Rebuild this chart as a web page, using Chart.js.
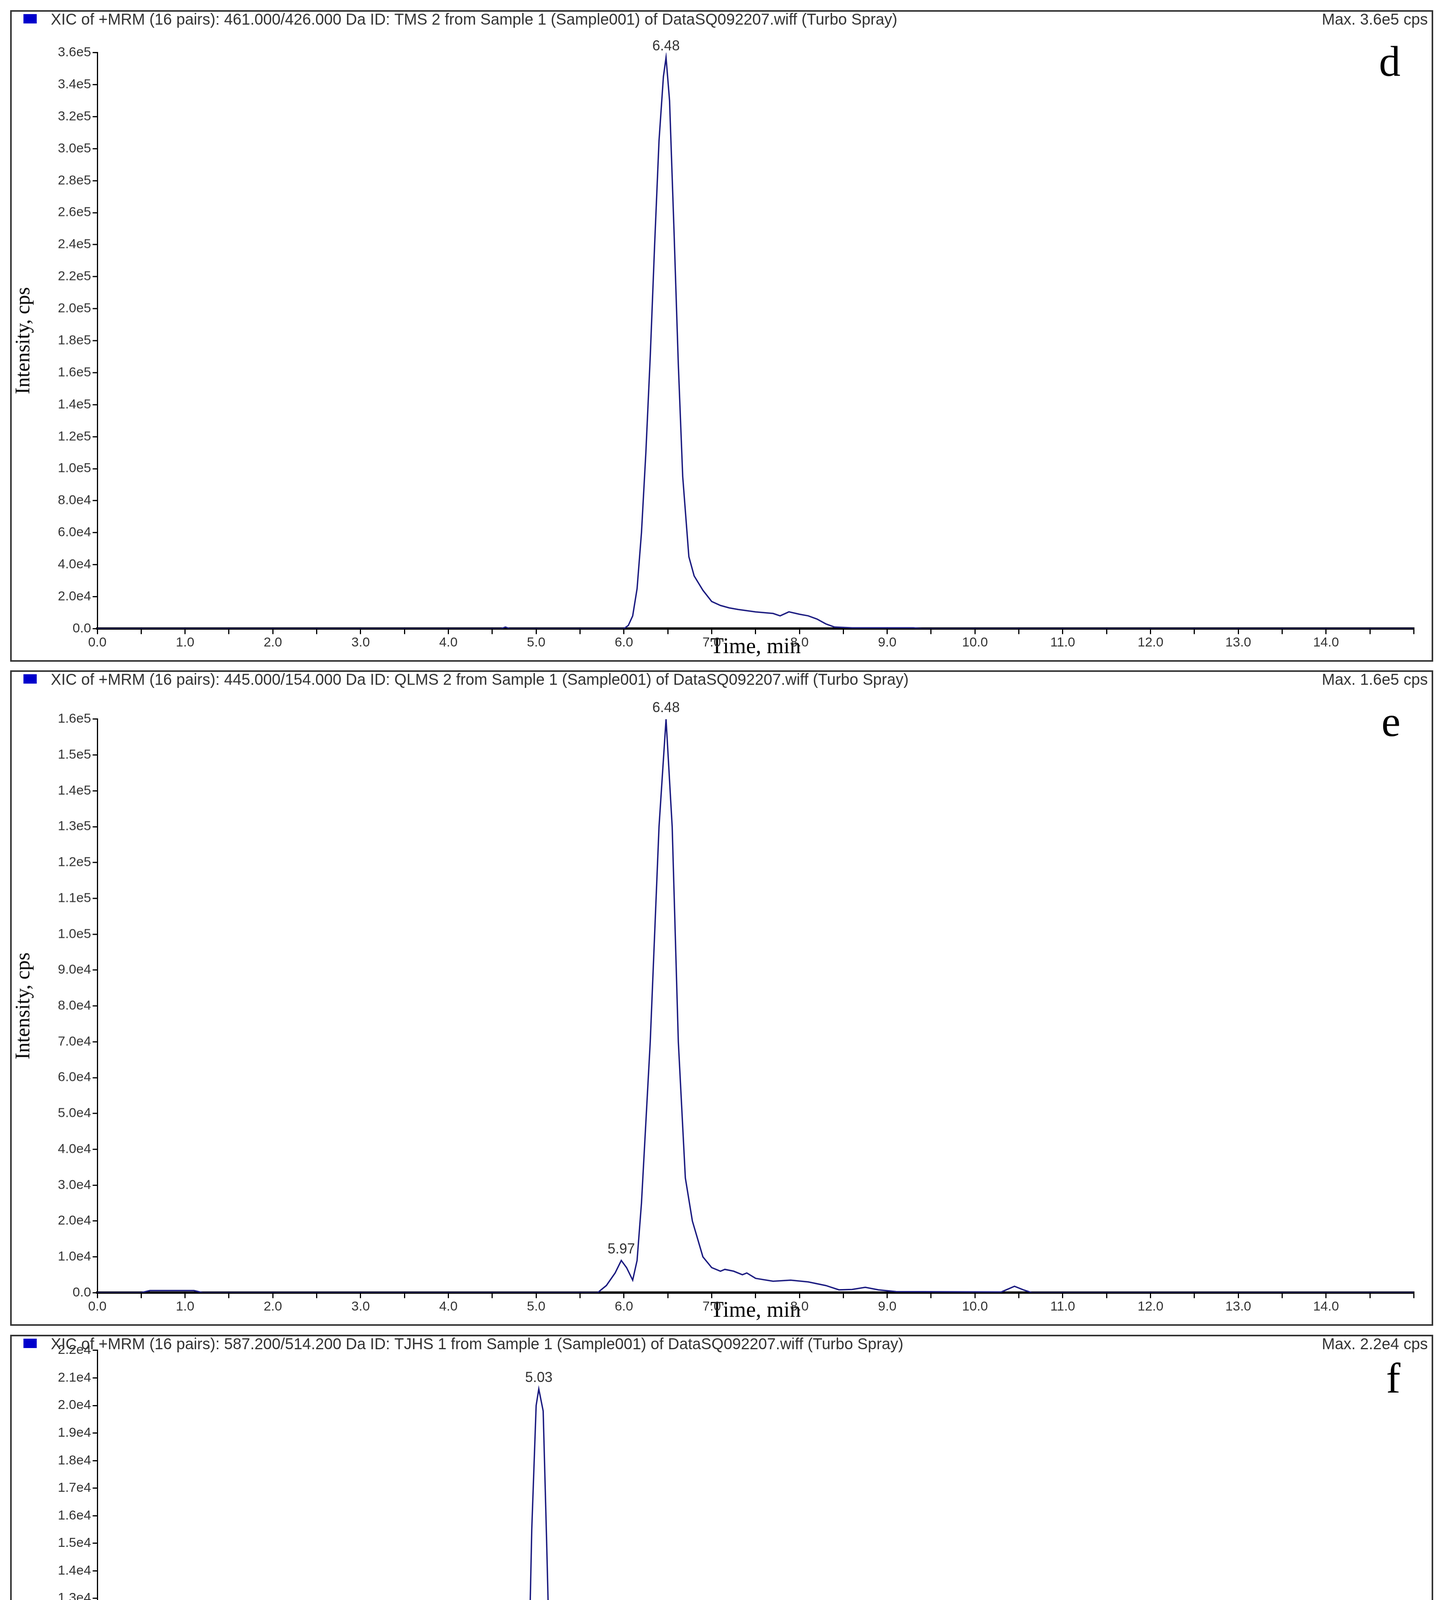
<!DOCTYPE html>
<html>
<head>
<meta charset="utf-8">
<script src="https://cdn.jsdelivr.net/npm/chart.js@4.4.1/dist/chart.umd.min.js"></script>
<style>
  body { margin: 0; background: #fff; width: 3688px; height: 5122px; position: relative; }
  .box { position: absolute; border: 4px solid #333; box-sizing: border-box; background: #fff; }
</style>
</head>
<body>
<div class="box" id="bd"><canvas id="cd"></canvas></div>
<div class="box" id="be"><canvas id="ce"></canvas></div>
<div class="box" id="bf"><canvas id="cf"></canvas></div>
<script>
// panel d: TMS 2
const timeD = [0, 4.6, 4.65, 4.7, 5.8, 6.0, 6.05, 6.1, 6.15, 6.2, 6.25, 6.3, 6.35, 6.4, 6.45, 6.48, 6.52, 6.57, 6.62, 6.67, 6.74, 6.8, 6.9, 7.0, 7.1, 7.2, 7.3, 7.5, 7.7, 7.78, 7.88, 8.0, 8.1, 8.2, 8.3, 8.4, 8.6, 9.3, 9.4, 15];
const intD = [0, 0, 1000, 0, 0, 0, 2000, 8000, 25000, 60000, 110000, 170000, 240000, 305000, 345000, 357000, 330000, 250000, 165000, 95000, 45000, 33000, 24000, 17000, 14500, 13000, 12000, 10500, 9500, 8000, 10500, 9000, 8000, 6000, 3000, 1000, 500, 500, 0, 0];
// panel e: QLMS 2
const timeE = [0, 0.5, 0.6, 1.1, 1.2, 5.7, 5.8, 5.9, 5.97, 6.03, 6.1, 6.15, 6.2, 6.3, 6.4, 6.48, 6.55, 6.62, 6.7, 6.78, 6.9, 7.0, 7.1, 7.15, 7.25, 7.35, 7.4, 7.5, 7.7, 7.9, 8.1, 8.3, 8.45, 8.6, 8.75, 8.9, 9.1, 10.3, 10.45, 10.55, 10.65, 15];
const intE = [0, 0, 600, 600, 0, 0, 2000, 5500, 9000, 7000, 3500, 9000, 25000, 70000, 130000, 160000, 130000, 70000, 32000, 20000, 10000, 7000, 6000, 6500, 6000, 5000, 5500, 4000, 3200, 3500, 3000, 2000, 800, 900, 1500, 800, 300, 200, 1800, 800, 0, 0];
// panel f: TJHS 1
const timeF = [0, 4.75, 4.85, 4.9, 4.95, 5.0, 5.03, 5.08, 5.12, 5.17, 5.22, 5.3, 5.4, 5.5, 5.6, 5.7, 5.8, 5.9, 6.0, 15];
const intF = [0, 0, 2000, 8000, 15500, 20000, 20600, 19800, 15000, 8500, 3000, 1200, 800, 500, 400, 350, 200, 80, 0, 0];

const titles = [
  "XIC of +MRM (16 pairs): 461.000/426.000 Da ID: TMS 2 from Sample 1 (Sample001) of DataSQ092207.wiff (Turbo Spray)",
  "XIC of +MRM (16 pairs): 445.000/154.000 Da ID: QLMS 2 from Sample 1 (Sample001) of DataSQ092207.wiff (Turbo Spray)",
  "XIC of +MRM (16 pairs): 587.200/514.200 Da ID: TJHS 1 from Sample 1 (Sample001) of DataSQ092207.wiff (Turbo Spray)"
];
const maxLabels = ["Max. 3.6e5 cps", "Max. 1.6e5 cps", "Max. 2.2e4 cps"];
const letters = ["d", "e", "f"];
const yMaxes = [360000, 160000, 22000];
const ySteps = [20000, 10000, 1000];
const peakTimes = [[6.48], [6.48, 5.97], [5.03]];
const peakValues = [[357000], [160000, 9000], [20600]];

const S = 3688 / 1128;
// box [left, top, right, bottom], plot top, plot bottom (display units)
const boxes = [[8, 8, 1122, 518, 40, 492], [8, 525, 1122, 1038, 562, 1012], [8, 1045, 1122, 1562, 1056, 1532]];
const series = [[timeD, intD], [timeE, intE], [timeF, intF]];

function fmtY(v) {
  if (v === 0) return "0.0";
  if (v >= 10000) return v.toExponential(1).replace("+", "");
  return v.toFixed(1);
}

["d", "e", "f"].forEach((id, i) => {
  const b = boxes[i];
  const box = document.getElementById("b" + id);
  const w = (b[2] - b[0]) * S, h = (b[3] - b[1]) * S;
  Object.assign(box.style, { left: b[0] * S + "px", top: b[1] * S + "px", width: w + "px", height: h + "px" });
  const [tx, ty] = series[i];

  const deco = {
    id: "deco" + id,
    afterDraw(chart) {
      const { ctx, scales } = chart;
      ctx.save();
      ctx.fillStyle = "#0000cc";
      ctx.fillRect(30, 6, 34, 24);
      ctx.fillStyle = "#333";
      ctx.font = "40px 'Liberation Sans'";
      ctx.textBaseline = "top";
      ctx.textAlign = "left";
      ctx.fillText(titles[i], 100, 2);
      ctx.textAlign = "right";
      ctx.fillText(maxLabels[i], chart.width - 10, 2);
      ctx.font = "36px 'Liberation Sans'";
      ctx.textAlign = "center";
      ctx.textBaseline = "bottom";
      peakTimes[i].forEach((t, k) => {
        ctx.fillText(t.toFixed(2), scales.x.getPixelForValue(t), scales.y.getPixelForValue(peakValues[i][k]) - 10);
      });
      ctx.fillStyle = "#000";
      ctx.font = "110px 'Liberation Serif'";
      ctx.textAlign = "right";
      ctx.textBaseline = "top";
      ctx.fillText(letters[i], chart.width - 80, (i === 2 ? 60 : 80));
      ctx.restore();
    }
  };

  new Chart(document.getElementById("c" + id), {
    type: "line",
    data: {
      datasets: [{
        data: tx.map((t, k) => ({ x: t, y: ty[k] })),
        borderColor: "#1a1a80",
        borderWidth: 3.5,
        pointRadius: 0,
        tension: 0
      }]
    },
    options: {
      responsive: true,
      maintainAspectRatio: false,
      animation: false,
      plugins: { legend: { display: false }, tooltip: { enabled: false } },
      layout: { padding: { left: 0, top: (b[4] - b[1]) * S, right: (b[2] - 1108) * S, bottom: 0 } },
      scales: {
        x: {
          type: "linear", min: 0, max: 15,
          border: { color: "#000", width: 6 },
          grid: { drawOnChartArea: false, tickLength: 14, color: "#000", lineWidth: 3 },
          afterFit(s) { s.height = (b[3] - b[5]) * S - 4; },
          afterBuildTicks(s) {
            const t = [];
            for (let v = 0; v <= 15; v += 0.5) t.push({ value: v });
            s.ticks = t;
          },
          ticks: {
            autoSkip: false, maxRotation: 0, color: "#333", padding: 2,
            font: { family: "Liberation Sans", size: 34 },
            callback: v => (Number.isInteger(v) && v < 15) ? v.toFixed(1) : ""
          },
          title: { display: true, text: "Time, min", color: "#000", padding: 0,
                   font: { family: "Liberation Serif", size: 56 } }
        },
        y: {
          min: 0, max: yMaxes[i],
          border: { color: "#000", width: 3 },
          grid: { drawOnChartArea: false, tickLength: 12, color: "#000", lineWidth: 3 },
          afterFit(s) { s.width = (75 - b[0]) * S; },
          ticks: {
            stepSize: ySteps[i], autoSkip: false, color: "#333", padding: 4,
            font: { family: "Liberation Sans", size: 34 },
            callback: v => fmtY(v)
          },
          title: { display: true, text: "Intensity, cps", color: "#000", padding: 0,
                   font: { family: "Liberation Serif", size: 52 } }
        }
      }
    },
    plugins: [deco]
  });
});
</script>
</body>
</html>
